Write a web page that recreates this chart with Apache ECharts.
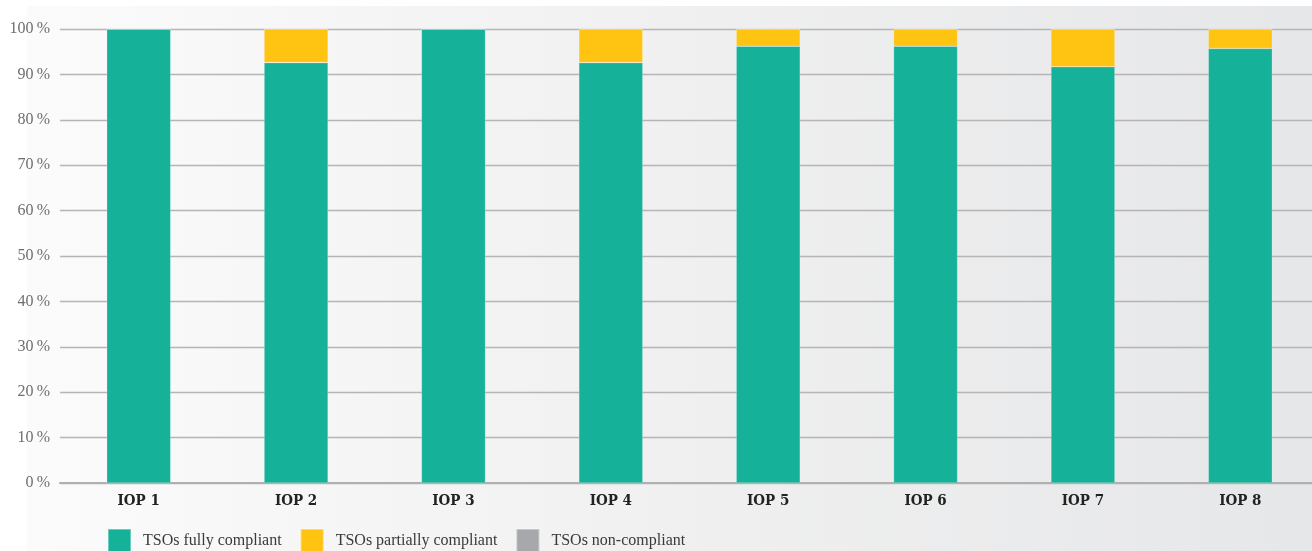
<!DOCTYPE html>
<html>
<head>
<meta charset="utf-8">
<script src="https://cdn.jsdelivr.net/npm/echarts@6/dist/echarts.min.js"></script>
<style>
html,body{margin:0;padding:0;background:#fff;}
#chart{width:1312px;height:551px;}
</style>
</head>
<body>
<div id="chart"></div>
<script>
const categories = ['IOP 1','IOP 2','IOP 3','IOP 4','IOP 5','IOP 6','IOP 7','IOP 8'];
const fullyCompliant = [100, 92.6, 100, 92.6, 96.2, 96.2, 91.7, 95.7];
const partiallyCompliant = [0, 7.4, 0, 7.4, 3.8, 3.8, 8.3, 4.3];
const nonCompliant = [0, 0, 0, 0, 0, 0, 0, 0];
const seriesNames = ['TSOs fully compliant','TSOs partially compliant','TSOs non-compliant'];
const yTicks = [0,10,20,30,40,50,60,70,80,90,100];

const FONT = '"Liberation Serif",serif';
const BOLDFONT = '"DejaVu Serif Condensed","DejaVu Serif",serif';
const chart = echarts.init(document.getElementById('chart'), null, {renderer:'canvas'});
const bar = (name, data, color) => ({
  name, type:'bar', stack:'total', data, barWidth:64,
  itemStyle:{color, borderColor:'rgba(255,255,255,0.35)', borderWidth:0.6},
  emphasis:{disabled:true}
});
chart.setOption({
  animation:false,
  backgroundColor:'#ffffff',
  graphic:[{
    type:'rect', z:-10, silent:true,
    shape:{x:27, y:6, width:1285, height:545},
    style:{fill:new echarts.graphic.LinearGradient(0,0,1,0,[
      {offset:0,color:'#fbfbfb'},{offset:0.5,color:'#f0f0f0'},{offset:1,color:'#e6e7e9'}])}
  }],
  grid:{left:60, top:29, width:1259, height:454, containLabel:false, outerBoundsMode:'none'},
  legend:{
    left:107, top:528, itemWidth:23, itemHeight:23, itemGap:18, padding:0,
    icon:'rect',
    data:seriesNames,
    textStyle:{fontFamily:FONT, fontSize:16, color:'#3a3a3a', padding:[0,0,0,7]}
  },
  xAxis:{
    type:'category', data:categories,
    axisLine:{show:true, lineStyle:{color:'#b0b0b0', width:2}},
    axisTick:{show:false},
    axisLabel:{fontFamily:BOLDFONT, fontWeight:'bold', fontSize:15, color:'#222', margin:11}
  },
  yAxis:{
    type:'value', min:0, max:100, interval:10,
    axisLine:{show:false}, axisTick:{show:false},
    splitLine:{lineStyle:{color:'#b5b5b5', width:1.3}},
    axisLabel:{fontFamily:FONT, fontSize:16, color:'#6e6e6e', margin:10,
      formatter: v => yTicks.includes(v) ? v + '\u2009%' : ''}
  },
  series:[
    bar(seriesNames[0], fullyCompliant, '#16b199'),
    bar(seriesNames[1], partiallyCompliant, '#ffc312'),
    bar(seriesNames[2], nonCompliant, '#a7a8ab')
  ]
});
</script>
</body>
</html>
